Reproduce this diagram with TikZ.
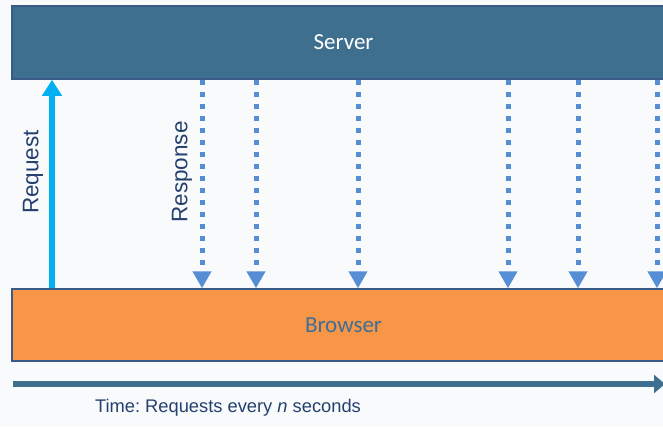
\documentclass[tikz,border=0pt]{standalone}
\usepackage{fontspec}
\setmainfont{Liberation Sans}
\newfontfamily\boxfont{Carlito}
\usetikzlibrary{arrows,arrows.meta}
\definecolor{servercol}{RGB}{62,111,143}
\definecolor{edgecol}{RGB}{58,90,135}
\definecolor{browsercol}{RGB}{247,150,70}
\definecolor{browsertxt}{RGB}{63,110,150}
\definecolor{reqcol}{RGB}{0,176,240}
\definecolor{respcol}{RGB}{85,142,213}
\definecolor{labelcol}{RGB}{37,64,110}
\definecolor{bgcol}{RGB}{248,250,252}
\frenchspacing

\begin{document}
\begin{tikzpicture}[x=1pt,y=-1pt,
    box/.style={rectangle,draw=edgecol,line width=1.5pt,minimum width=663pt,
      font=\boxfont\fontsize{23}{26}\selectfont},
    req/.style={reqcol,line width=6pt,-{Triangle[width=19pt,length=16pt]}},
    resp/.style={respcol,line width=5pt,dash pattern=on 5pt off 7pt,
      -{Triangle[width=18pt,length=17pt]}},
    timeline/.style={servercol,line width=6pt,-{Triangle[width=18pt,length=11pt]}},
    sidelbl/.style={labelcol,rotate=90,font=\fontsize{22.5}{26}\selectfont}]
  \fill[bgcol] (0,0) rectangle (663,426);
  \useasboundingbox (0,0) rectangle (663,426);
  \clip (0,0) rectangle (663,426);

  % the two boxes
  \node[box,fill=servercol,text=white,minimum height=73pt](server) at (343.5,42.5){Server};
  \node[box,fill=browsercol,text=browsertxt,minimum height=72pt](browser) at (343.5,325){Browser};

  % one request going up
  \draw[req] (browser.north -| 52,0) -- (server.south -| 52,0);
  \node[sidelbl](reqlbl) at (33,172){Request};

  % responses coming back down
  \foreach \x in {202,256,358,508,578,657}
    \draw[resp] (server.south -| \x,0) -- (browser.north -| \x,0);
  \node[sidelbl](resplbl) at (182,172){Response};

  % time axis
  \coordinate (tstart) at (13,384);
  \coordinate (tend) at (665,384);
  \draw[timeline] (tstart) -- (tend);
  \node[labelcol,font=\fontsize{18.3}{22}\selectfont](timelbl) at (228,408)
    {Time: Requests every \textit{n} seconds};
\end{tikzpicture}
\end{document}
